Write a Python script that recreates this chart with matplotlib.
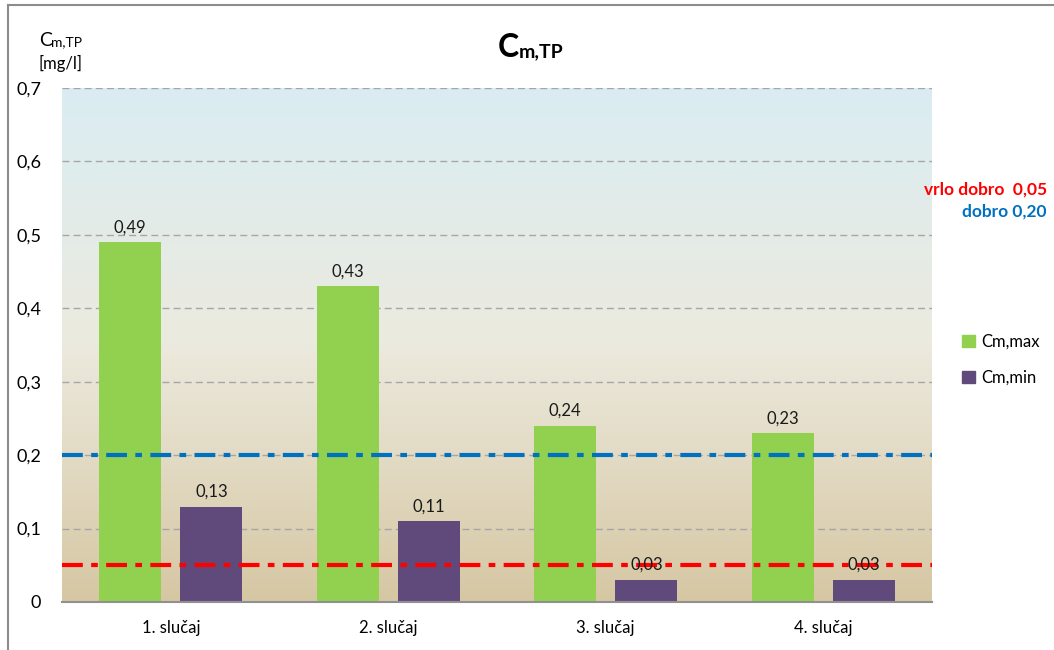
import numpy as np
import matplotlib
matplotlib.use("Agg")
import matplotlib.pyplot as plt
from matplotlib.patches import Patch
from matplotlib.lines import Line2D
from matplotlib.colors import LinearSegmentedColormap

categories = ["1. slučaj", "2. slučaj", "3. slučaj", "4. slučaj"]
cm_max = [0.49, 0.43, 0.24, 0.23]
cm_min = [0.13, 0.11, 0.03, 0.03]
limit_vrlo_dobro = 0.05
limit_dobro = 0.20
yticks = [0, 0.1, 0.2, 0.3, 0.4, 0.5, 0.6, 0.7]

plt.rcParams['font.family'] = ['Lato', 'DejaVu Sans']

W, H = 1054, 650
fig = plt.figure(figsize=(W / 100, H / 100), dpi=100)
fig.patch.set_facecolor('white')

def fx(px):
    return px / W

def fy(py):
    return 1 - py / H

ax = fig.add_axes([fx(62), fy(602), fx(932) - fx(62), fy(88) - fy(602)])

x = np.arange(len(categories))
ax.set_xlim(-0.5, len(categories) - 0.5)
ax.set_ylim(0, 0.7)

# gradient background
cmap = LinearSegmentedColormap.from_list(
    "bg", [(0.0, (214/255, 199/255, 163/255)),
           (0.5, (236/255, 234/255, 222/255)),
           (1.0, (218/255, 237/255, 243/255))])
grad = np.linspace(0, 1, 256).reshape(-1, 1)
ax.imshow(grad, cmap=cmap, origin='lower', aspect='auto',
          extent=(-0.5, len(categories) - 0.5, 0, 0.7), zorder=0)

# grid
for t in yticks[1:]:
    ax.axhline(t, color='#a6a6a6', lw=1.0, ls=(0, (5, 3)), zorder=1)

bw = 0.285
off = 0.187
b1 = ax.bar(x - off, cm_max, bw, color='#92d050', zorder=2, label='Cm,max')
b2 = ax.bar(x + off, cm_min, bw, color='#604a7b', zorder=2, label='Cm,min')

ax.axhline(limit_dobro, color='#0070c0', lw=3, zorder=3,
           dashes=(5, 2, 1.6, 2))
ax.axhline(limit_vrlo_dobro, color='#ff0000', lw=3, zorder=3,
           dashes=(5, 2, 1.6, 2))

def fmt(v):
    return f"{v:.2f}".replace('.', ',')

for bars, vals in ((b1, cm_max), (b2, cm_min)):
    for r, v in zip(bars, vals):
        ax.annotate(fmt(v), (r.get_x() + r.get_width() / 2, v),
                    xytext=(0, 5), textcoords='offset points',
                    ha='center', va='bottom', fontsize=12, color='#1a1a1a',
                    zorder=5)

ax.set_xticks(x)
ax.set_xticklabels(categories, fontsize=12)
ax.set_yticks(yticks)
ax.set_yticklabels(['0' if t == 0 else f"{t:.1f}".replace('.', ',') for t in yticks],
                   fontsize=13)
ax.tick_params(axis='x', length=0, pad=13)
ax.tick_params(axis='y', length=0, pad=15)
for s in ['top', 'right', 'left']:
    ax.spines[s].set_visible(False)
ax.spines['bottom'].set_color('#909090')
ax.spines['bottom'].set_linewidth(1.5)
ax.spines['bottom'].set_zorder(4)

# title
fig.text(fx(498), fy(57), "C", fontsize=23, fontweight='bold', va='baseline', ha='left')
fig.text(fx(519), fy(57), "m,TP", fontsize=14, fontweight='bold', va='baseline', ha='left')

# y-axis label
fig.text(fx(39), fy(46), "C", fontsize=14, va='baseline', ha='left')
fig.text(fx(51), fy(46), "m,TP", fontsize=10, va='baseline', ha='left')
fig.text(fx(39), fy(69), "[mg/l]", fontsize=12, va='baseline', ha='left')

# limit texts
fig.text(fx(1047), fy(190), "vrlo dobro  0,05", color='#ff0000', fontsize=12.5,
         fontweight='bold', ha='right', va='center')
fig.text(fx(1047), fy(212), "dobro 0,20", color='#0070c0', fontsize=12.5,
         fontweight='bold', ha='right', va='center')

# legend
handles = [Patch(color='#92d050', label='Cm,max'), Patch(color='#604a7b', label='Cm,min')]
fig.legend(handles=handles, loc='center left', bbox_to_anchor=(fx(947), fy(360)),
           frameon=False, fontsize=12, handlelength=0.75, handleheight=0.75,
           handletextpad=0.4, labelspacing=1.2)

# outer frame (top and left)
fig.add_artist(Line2D([fx(8), 1], [fy(5), fy(5)], color='#8c8c8c', lw=1.5,
                      transform=fig.transFigure))
fig.add_artist(Line2D([fx(8), fx(8)], [fy(5), 0], color='#8c8c8c', lw=1.5,
                      transform=fig.transFigure))

fig.savefig("out.png", dpi=100)
